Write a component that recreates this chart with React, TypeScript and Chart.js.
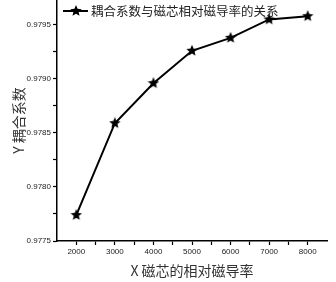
import React, { useEffect, useRef } from "react";
import { Chart, registerables } from "chart.js";

Chart.register(...registerables);

const permeability = [2000, 3000, 4000, 5000, 6000, 7000, 8000];
const coupling = [0.97774, 0.97859, 0.97896, 0.97926, 0.97938, 0.97955, 0.97958];
const seriesLabel = "耦合系数与磁芯相对磁导率的关系";
const xMajorTicks = [2000, 3000, 4000, 5000, 6000, 7000, 8000];
const xMinorTicks = [2500, 3500, 4500, 5500, 6500, 7500];
const yMajorTicks = [0.9775, 0.978, 0.9785, 0.979, 0.9795];
const yMinorTicks = [0.97775, 0.97825, 0.97875, 0.97925];
const xTitle = "X 磁芯的相对磁导率";
const yTitle = "Y 耦合系数";

function makeStar(size: number): HTMLCanvasElement {
  const c = document.createElement("canvas");
  c.width = size;
  c.height = size;
  const g = c.getContext("2d")!;
  const cx = size / 2, cy = size / 2;
  const R = size / 2, r = R * 0.45;
  g.beginPath();
  for (let i = 0; i < 10; i++) {
    const ang = -Math.PI / 2 + (i * Math.PI) / 5;
    const rad = i % 2 === 0 ? R : r;
    const px = cx + rad * Math.cos(ang);
    const py = cy + rad * Math.sin(ang);
    if (i === 0) g.moveTo(px, py);
    else g.lineTo(px, py);
  }
  g.closePath();
  g.fillStyle = "#000";
  g.fill();
  return c;
}

export default function App() {
  const ref = useRef<HTMLCanvasElement | null>(null);
  useEffect(() => {
    document.body.style.margin = "0";
    const star = makeStar(12);
    const legendPlugin = {
      id: "insideLegend",
      afterDraw(chart: any) {
        const ctx = chart.ctx;
        const ds = chart.data.datasets[0];
        ctx.save();
        ctx.strokeStyle = "#000";
        ctx.lineWidth = 2;
        ctx.beginPath();
        ctx.moveTo(63, 11);
        ctx.lineTo(88, 11);
        ctx.stroke();
        ctx.drawImage(star, 70, 5);
        ctx.fillStyle = "#222";
        ctx.font = "12.5px 'Noto Sans CJK SC'";
        ctx.textBaseline = "middle";
        ctx.textAlign = "left";
        ctx.fillText(ds.label, 91, 11);
        ctx.restore();
      },
    };
    const tickFont = { family: "'Liberation Sans', Arial, sans-serif", size: 8 };
    const chart = new Chart(ref.current!, {
      type: "line",
      data: {
        datasets: [
          {
            label: seriesLabel,
            data: permeability.map((x, i) => ({ x, y: coupling[i] })),
            borderColor: "#000",
            borderWidth: 2,
            pointStyle: star as any,
            pointRadius: 6,
            fill: false,
            tension: 0,
            clip: false as any,
          },
        ],
      },
      options: {
        animation: false,
        responsive: true,
        maintainAspectRatio: false,
        layout: { autoPadding: false, padding: { top: 0, right: 9, left: 0, bottom: 0 } },
        plugins: { legend: { display: false }, tooltip: { enabled: false } },
        scales: {
          x: {
            type: "linear",
            min: 1500,
            max: 8500,
            afterBuildTicks: (s: any) => {
              s.ticks = [...xMajorTicks, ...xMinorTicks]
                .sort((a, b) => a - b)
                .map((v) => ({ value: v }));
            },
            afterFit: (s: any) => {
              s.height = 41;
              s.paddingLeft = 0;
              s.paddingRight = 0;
            },
            ticks: {
              autoSkip: false,
              maxRotation: 0,
              padding: 2,
              color: "#222",
              font: tickFont,
              callback: (v: any) => (xMajorTicks.includes(v) ? String(v) : ""),
            },
            grid: { drawOnChartArea: false, tickLength: 4, tickColor: "#000", tickWidth: 1.2 },
            border: { color: "#000", width: 1.5 },
            title: {
              display: true,
              text: xTitle,
              color: "#333",
              font: { family: "'Noto Sans CJK SC'", size: 14 },
              padding: { top: 0, bottom: 3 },
            },
          },
          y: {
            type: "linear",
            min: 0.9775,
            max: 0.97973,
            afterBuildTicks: (s: any) => {
              s.ticks = [...yMajorTicks, ...yMinorTicks]
                .sort((a, b) => a - b)
                .map((v) => ({ value: v }));
            },
            afterFit: (s: any) => {
              s.width = 57;
              s.paddingTop = 0;
              s.paddingBottom = 0;
            },
            ticks: {
              autoSkip: false,
              padding: 2,
              color: "#222",
              font: tickFont,
              callback: (v: any) =>
                yMajorTicks.some((t) => Math.abs(t - v) < 1e-7) ? Number(v).toFixed(4) : "",
            },
            grid: { drawOnChartArea: false, tickLength: 4, tickColor: "#000", tickWidth: 1.2 },
            border: { color: "#000", width: 1.5 },
            title: {
              display: true,
              text: yTitle,
              color: "#333",
              font: { family: "'Noto Sans CJK SC'", size: 14 },
              padding: { top: 10, bottom: 0 },
            },
          },
        },
      },
      plugins: [legendPlugin],
    });
    return () => chart.destroy();
  }, []);
  return (
    <div style={{ width: 336, height: 282, position: "relative", background: "#fff" }}>
      <canvas ref={ref} />
    </div>
  );
}
